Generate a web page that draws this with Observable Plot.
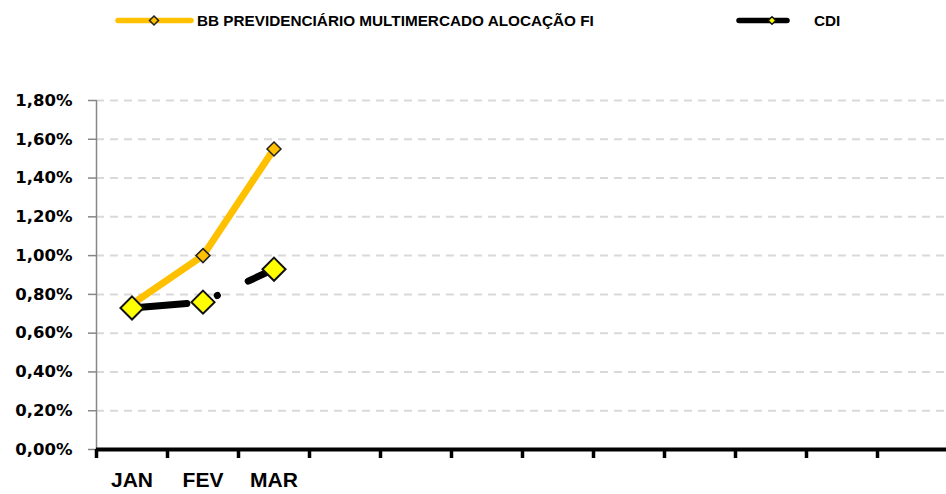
<!DOCTYPE html>
<html>
<head>
<meta charset="utf-8">
<script src="https://cdn.jsdelivr.net/npm/d3@7"></script>
<script src="https://cdn.jsdelivr.net/npm/@observablehq/plot@0.6"></script>
<style>
  html, body { margin: 0; padding: 0; background: #fff; }
  #wrap { position: relative; width: 946px; height: 494px; overflow: hidden; }
  #chart { position: absolute; left: 0; top: 0; }
  #legend { position: absolute; left: 0; top: 0; }
</style>
</head>
<body>
<div id="wrap"><div id="chart"></div><svg id="legend" width="946" height="40"></svg></div>
<script>
// ---- data ----
const months = ["JAN","FEV","MAR","ABR","MAI","JUN","JUL","AGO","SET","OUT","NOV","DEZ"];
const labeledMonths = ["JAN","FEV","MAR"];
const bbName = "BB PREVIDENCIÁRIO MULTIMERCADO ALOCAÇÃO FI";
const cdiName = "CDI";
const bbValues = [0.75, 1.00, 1.55];
const cdiValues = [0.73, 0.76, 0.93];
const yTicks = [0, 0.2, 0.4, 0.6, 0.8, 1.0, 1.2, 1.4, 1.6, 1.8];

// ---- derived tables ----
const bb = bbValues.map((v, i) => ({x: i + 1, y: v}));
const cdi = cdiValues.map((v, i) => ({x: i + 1, y: v}));
const boundaries = months.map((m, i) => i + 0.5).concat([months.length + 0.5]);
const labelTicks = labeledMonths.map(m => months.indexOf(m) + 1);
const fmt = d => d.toFixed(2).replace(".", ",") + "%";

const ORANGE = "#FFC000";
const YELLOW = "#FFFF00";

const chart = Plot.plot({
  width: 946,
  height: 494,
  marginTop: 100,
  marginBottom: 45,
  marginLeft: 96,
  marginRight: 0,
  style: {background: "white"},
  x: {domain: [0.5, months.length + 0.5], range: [96, 948], axis: null},
  y: {domain: [0, 1.8], axis: null},
  marks: [
    Plot.ruleY(yTicks.filter(d => d > 0), {stroke: "#d9d9d9", strokeWidth: 2, strokeDasharray: "8,6"}),
    Plot.axisY({
      ticks: yTicks, tickFormat: fmt, tickSize: 8, tickPadding: 16, label: null,
      stroke: "#868686", strokeWidth: 1.5, strokeOpacity: 1,
      fill: "#000", fontSize: 16.5, fontWeight: "bold", fontFamily: "DejaVu Sans",
      x: 0.5
    }),
    Plot.ruleX([0.5], {y1: 0, y2: 1.8, stroke: "#868686", strokeWidth: 1.5}),
    Plot.axisX({
      ticks: boundaries, tickFormat: () => "", tickSize: 9, label: null,
      stroke: "#000", strokeWidth: 3.5, strokeOpacity: 1
    }),
    Plot.ruleY([0], {stroke: "#000", strokeWidth: 4}),
    Plot.axisX({
      ticks: labelTicks, tickFormat: i => months[i - 1], tickSize: 0, tickPadding: 23, label: null,
      fill: "#000", fontSize: 21, fontWeight: "bold", fontFamily: "Liberation Sans"
    }),
    Plot.line(bb, {x: "x", y: "y", stroke: ORANGE, strokeWidth: 7, strokeLinejoin: "round", strokeLinecap: "butt"}),
    Plot.dot(bb, {x: "x", y: "y", symbol: "diamond2", r: 6.3, fill: ORANGE, stroke: "#222", strokeWidth: 1.5}),
    Plot.line(cdi, {x: "x", y: "y", stroke: "#000", strokeWidth: 7, strokeLinejoin: "round", strokeLinecap: "round", strokeDasharray: "55,32,0.1,34"}),
    Plot.dot(cdi, {x: "x", y: "y", symbol: "diamond2", r: 10.4, fill: YELLOW, stroke: "#111", strokeWidth: 2})
  ]
});
document.getElementById("chart").appendChild(chart);

// ---- legend ----
const lg = d3.select("#legend");
const diamond = (cx, cy, h) => `M${cx},${cy - h}L${cx + h},${cy}L${cx},${cy + h}L${cx - h},${cy}Z`;
const items = [
  {name: bbName, color: ORANGE, mfill: ORANGE, mstroke: "#222", x1: 118, x2: 191, mx: 154, tx: 197, mh: 4.5},
  {name: cdiName, color: "#000", mfill: YELLOW, mstroke: "#111", x1: 739, x2: 787, mx: 772, tx: 814, mh: 3.8}
];
const cy = 20.5;
items.forEach(it => {
  lg.append("line").attr("x1", it.x1).attr("x2", it.x2).attr("y1", cy).attr("y2", cy)
    .attr("stroke", it.color).attr("stroke-width", 5.5).attr("stroke-linecap", "round");
  lg.append("path").attr("d", diamond(it.mx, cy, it.mh)).attr("fill", it.mfill)
    .attr("stroke", it.mstroke).attr("stroke-width", 1.5);
  lg.append("text").attr("x", it.tx).attr("y", cy).attr("dy", "0.36em")
    .attr("font-family", "Liberation Sans").attr("font-weight", "bold").attr("font-size", 15.3)
    .attr("fill", "#000").text(it.name);
});
</script>
</body>
</html>
